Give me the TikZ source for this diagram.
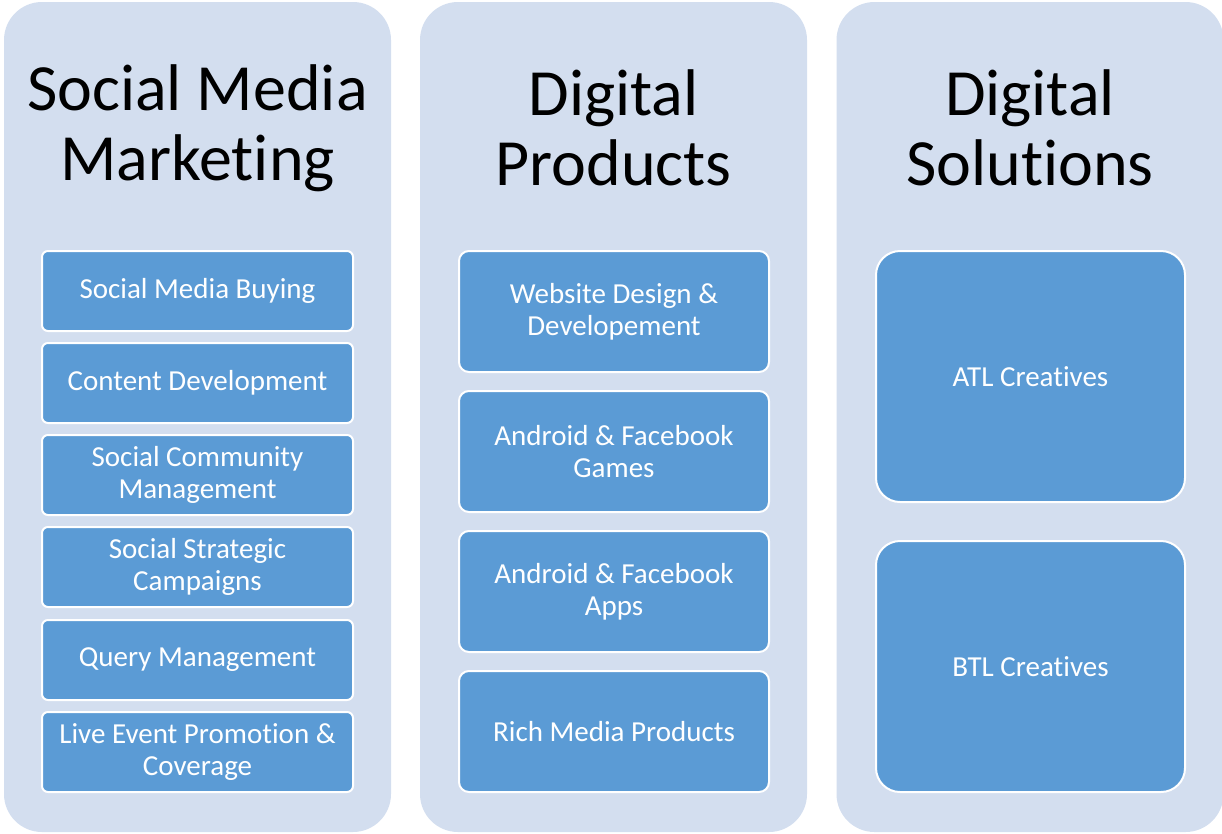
\documentclass[tikz,border=0pt]{standalone}
\usepackage{fontspec}
\setmainfont[Ligatures={NoCommon}]{Carlito}
\newcommand{\tI}{t\kern0pt i}
\definecolor{panel}{HTML}{D3DEEF}
\definecolor{itemblue}{HTML}{5B9BD5}
\tikzset{
  panelbox/.style={fill=panel, draw=none, rounded corners=38pt, inner sep=0pt},
  titletext/.style={align=center, font=\fontsize{66}{70}\selectfont, text=black, inner sep=0pt},
  itembox/.style={fill=itemblue, draw=white, line width=2pt, text=white, align=center,
    font=\fontsize{29}{32}\selectfont, inner sep=0pt},
}
\begin{document}
\begin{tikzpicture}[x=1pt,y=-1pt]
\useasboundingbox (0,0) rectangle (1222,833);
% panels
\node[panelbox, minimum width=387pt, minimum height=830pt] (p1) at (197.5,417) {};
\node[panelbox, minimum width=387pt, minimum height=830pt] (p2) at (613.5,417) {};
\node[panelbox, minimum width=387pt, minimum height=830pt] (p3) at (1030,417) {};
% titles
\node[titletext] (t1) at (197.5,128) {Social Media\\Marke\tI ng};
\node[titletext] (t2) at (613.5,128) {Digital\\Products};
\node[titletext] (t3) at (1030,128) {Digital\\Solu\tI ons};
% column 1
\begin{scope}[every node/.style={itembox, rounded corners=6pt, minimum width=311pt, minimum height=80pt}]
\node (a1) at (197.5,291) {Social Media Buying};
\node (a2) at (197.5,383) {Content Development};
\node (a3) at (197.5,475) {Social Community\\Management};
\node (a4) at (197.5,567) {Social Strategic\\Campaigns};
\node (a5) at (197.5,660) {Query Management};
\node (a6) at (197.5,752) {Live Event Promo\tI on \&\\Coverage};
\end{scope}
% column 2
\begin{scope}[every node/.style={itembox, rounded corners=10pt, minimum width=310pt, minimum height=121pt}]
\node (b1) at (614,311.5) {Website Design \&\\Developement};
\node (b2) at (614,451.5) {Android \& Facebook\\Games};
\node (b3) at (614,591.5) {Android \& Facebook\\Apps};
\node (b4) at (614,731.5) {Rich Media Products};
\end{scope}
% column 3
\begin{scope}[every node/.style={itembox, rounded corners=24pt, minimum width=309pt, minimum height=251pt}]
\node (c1) at (1030.5,376.5) {ATL Crea\tI ves};
\node (c2) at (1030.5,666.5) {BTL Crea\tI ves};
\end{scope}
\end{tikzpicture}
\end{document}
